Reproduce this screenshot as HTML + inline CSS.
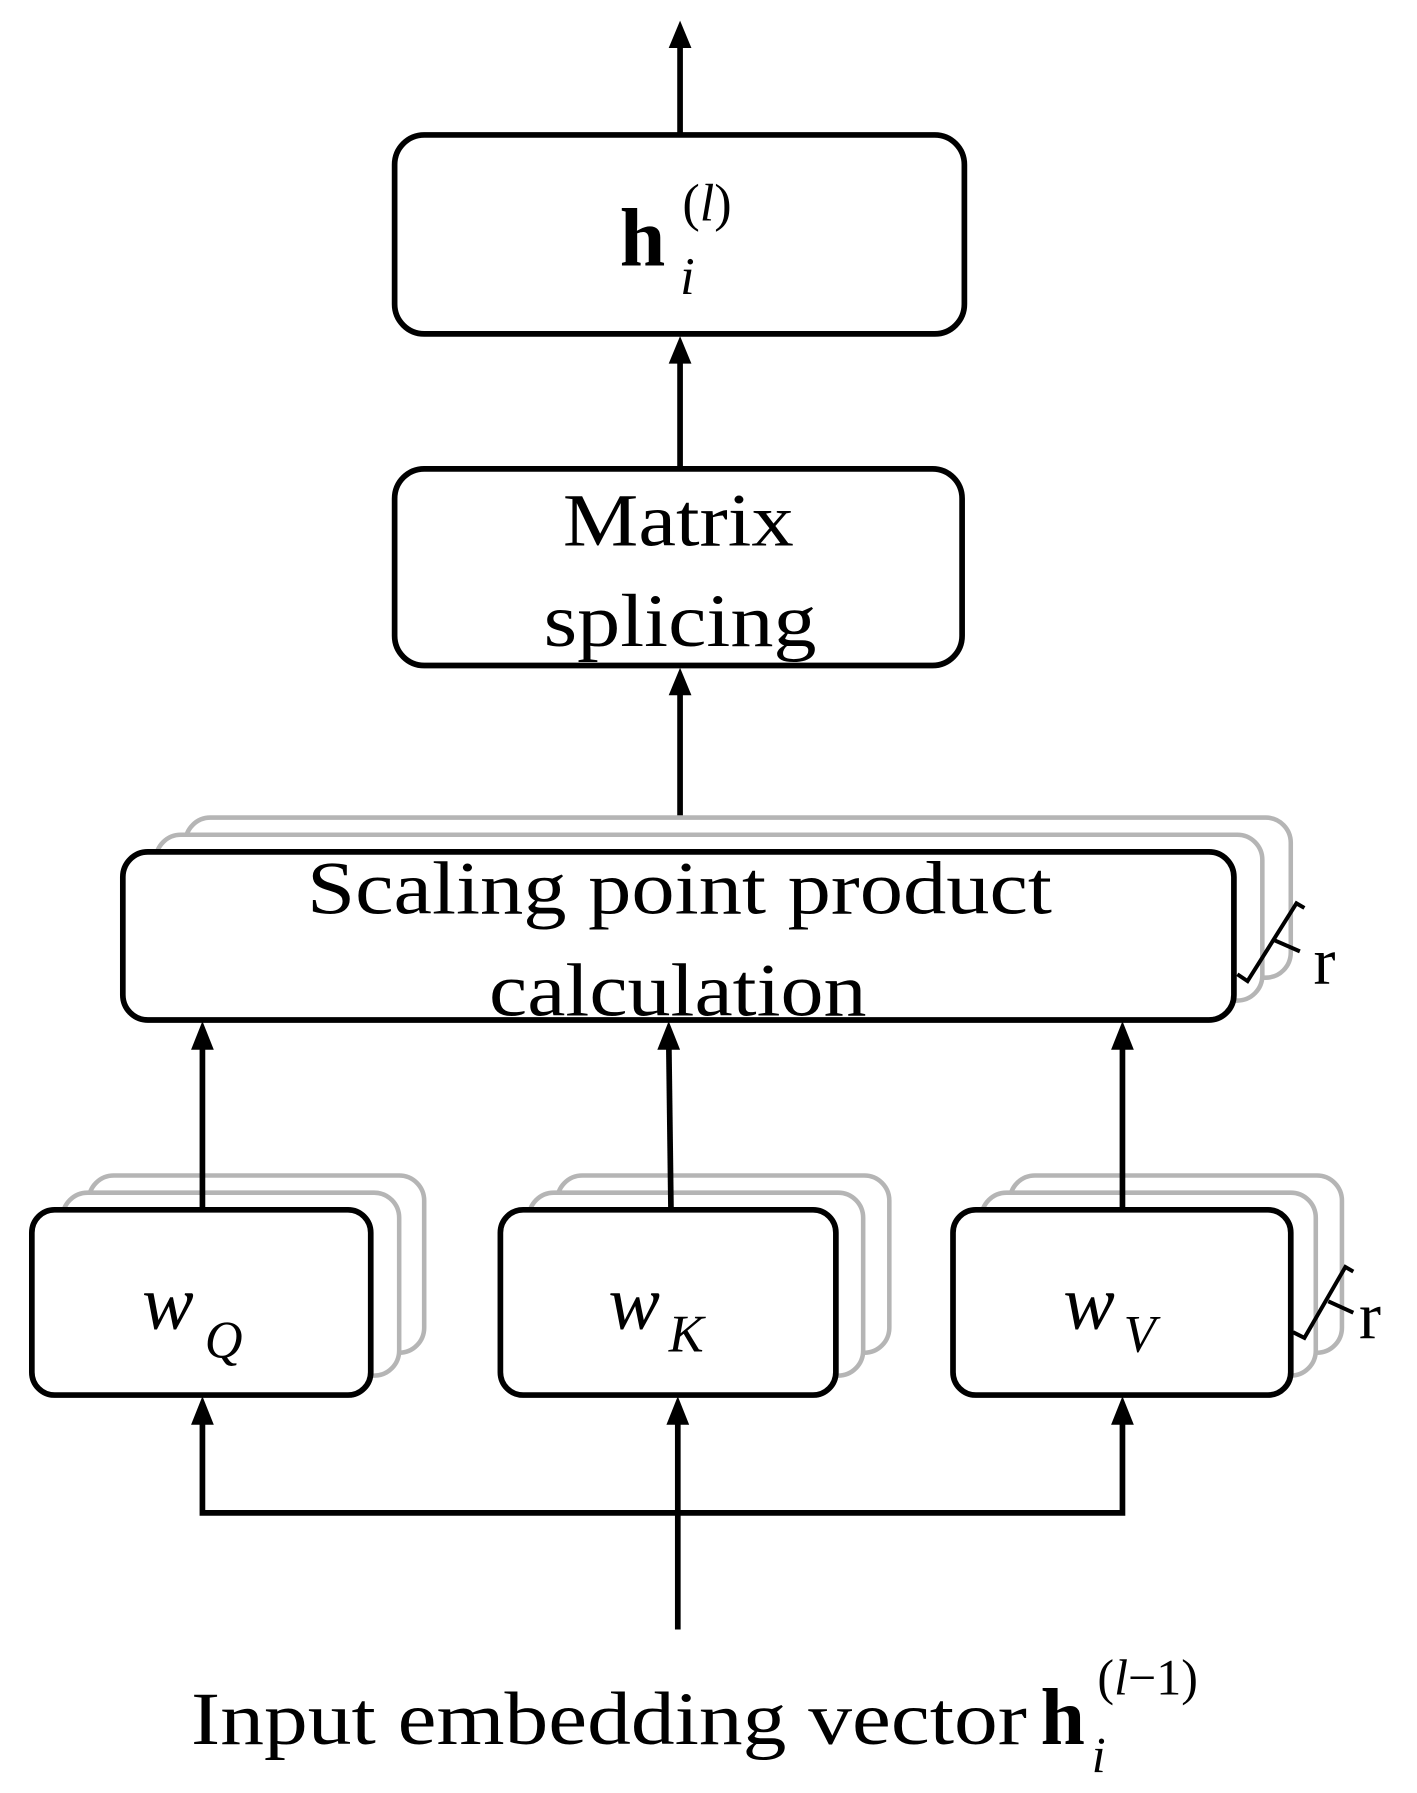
<!DOCTYPE html>
<html><head><meta charset="utf-8"><style>html,body{margin:0;padding:0;background:#fff}svg{display:block}</style></head>
<body>
<svg width="1417" height="1793" viewBox="0 0 1246 1568" preserveAspectRatio="none" xmlns="http://www.w3.org/2000/svg">
<g font-family="Liberation Serif, serif" fill="none">
<g stroke="#000" stroke-width="5">
<line x1="598" y1="118" x2="598" y2="30"/>
<line x1="598" y1="410" x2="598" y2="310"/>
<line x1="598" y1="745" x2="598" y2="600"/>
</g>
<g fill="#000">
<path d="M588,42 L598,18 L608,42 Z"/>
<path d="M588,318 L598,294 L608,318 Z"/>
<path d="M588,608 L598,584 L608,608 Z"/>
</g>
<rect x="347" y="118" width="501" height="174" rx="26" stroke="#000" stroke-width="5" fill="#fff"/>
<rect x="347" y="410" width="499" height="172" rx="26" stroke="#000" stroke-width="5" fill="#fff"/>
<rect x="163" y="715" width="972" height="140" rx="22" stroke="#b5b5b5" stroke-width="4" fill="#fff"/>
<rect x="137" y="730" width="973" height="145" rx="22" stroke="#b5b5b5" stroke-width="4" fill="#fff"/>
<rect x="108" y="745" width="977" height="147" rx="22" stroke="#000" stroke-width="5" fill="#fff"/>
<path d="M1088,852 L1097,858 L1140,790 L1147,794 M1120,822 L1143,832" stroke="#000" stroke-width="3.5"/>
<g stroke="#b5b5b5" stroke-width="4" fill="#fff">
<rect x="78" y="1028" width="295" height="155" rx="22"/><rect x="55" y="1043" width="296" height="160" rx="22"/>
<rect x="490" y="1028" width="292" height="155" rx="22"/><rect x="465" y="1043" width="294" height="160" rx="22"/>
<rect x="888" y="1028" width="292" height="155" rx="22"/><rect x="863" y="1043" width="294" height="160" rx="22"/>
</g>
<g stroke="#000" stroke-width="5" fill="#fff">
<rect x="28" y="1058" width="298" height="162" rx="20"/>
<rect x="440" y="1058" width="295" height="162" rx="20"/>
<rect x="838" y="1058" width="297" height="162" rx="20"/>
</g>
<path d="M1137,1165 L1147,1170 L1183,1108 L1190,1112 M1168,1138 L1190,1148" stroke="#000" stroke-width="3.5"/>
<g stroke="#000" stroke-width="5">
<line x1="178" y1="1058" x2="178" y2="905"/><line x1="590" y1="1058" x2="588" y2="905"/><line x1="987" y1="1058" x2="987" y2="905"/>
<polyline points="178,1232 178,1323 987,1323 987,1232"/>
<line x1="596" y1="1425" x2="596" y2="1232"/>
</g>
<g fill="#000">
<path d="M168,918 L178,893 L188,918 Z"/><path d="M578,918 L588,893 L598,918 Z"/><path d="M977,918 L987,893 L997,918 Z"/>
<path d="M168,1246 L178,1221 L188,1246 Z"/><path d="M586,1246 L596,1221 L606,1246 Z"/><path d="M977,1246 L987,1221 L997,1246 Z"/>
</g>
<g fill="#000" stroke="none">
<text x="545" y="232" font-size="72" font-weight="bold">h</text>
<text x="598" y="257" font-size="46" font-style="italic">i</text>
<text x="600" y="193" font-size="46">(<tspan font-style="italic">l</tspan>)</text>
<text x="495" y="477" font-size="66" textLength="203" lengthAdjust="spacingAndGlyphs">Matrix</text>
<text x="478" y="565" font-size="66" textLength="240" lengthAdjust="spacingAndGlyphs">splicing</text>
<text x="270" y="799" font-size="66" textLength="655" lengthAdjust="spacingAndGlyphs">Scaling point product</text>
<text x="430" y="888" font-size="66" textLength="332" lengthAdjust="spacingAndGlyphs">calculation</text>
<text x="1155" y="860" font-size="58">r</text>
<text x="1195" y="1170" font-size="58">r</text>
<text x="125" y="1162" font-size="68" font-style="italic">w</text>
<text x="180" y="1187" font-size="46" font-style="italic">Q</text>
<text x="535" y="1162" font-size="68" font-style="italic">w</text>
<text x="588" y="1182" font-size="46" font-style="italic">K</text>
<text x="935" y="1162" font-size="68" font-style="italic">w</text>
<text x="988" y="1182" font-size="46" font-style="italic">V</text>
<text x="168" y="1525" font-size="66" textLength="735" lengthAdjust="spacingAndGlyphs">Input embedding vector</text>
<text x="915" y="1525" font-size="70" font-weight="bold">h</text>
<text x="960" y="1550" font-size="44" font-style="italic">i</text>
<text x="965" y="1482" font-size="44">(<tspan font-style="italic">l</tspan>−1)</text>
</g>
</g>
</svg>
</body></html>
